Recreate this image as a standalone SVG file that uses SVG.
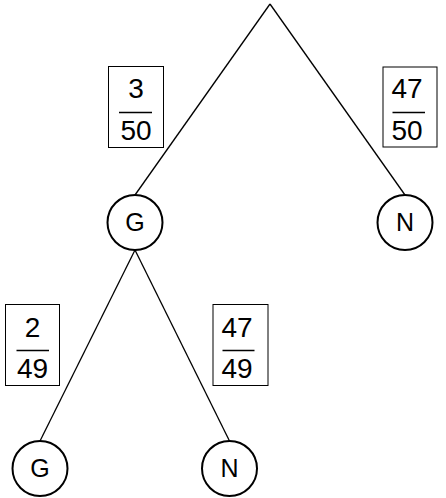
<svg xmlns="http://www.w3.org/2000/svg" width="446" height="498" viewBox="0 0 446 498">
<style>
.edge{stroke:#000;stroke-width:1.3;fill:none}
.box{fill:#fff;stroke:#000;stroke-width:1}
.frac{stroke:#000;stroke-width:1.3}
.node{fill:#fff;stroke:#000;stroke-width:2}
text{font-family:"Liberation Sans",Arial,sans-serif;font-size:28px;fill:#000;text-anchor:middle}
text.lbl{font-size:25px}
</style>
<rect width="446" height="498" fill="#fff"/>
<g id="connectors">
<line class="edge" x1="270" y1="4" x2="135" y2="195"/>
<line class="edge" x1="270" y1="4" x2="405" y2="195"/>
<line class="edge" x1="135" y1="250" x2="40" y2="441"/>
<line class="edge" x1="135" y1="250" x2="229.5" y2="441"/>
</g>
<g id="p1">
<rect class="box" x="108.5" y="66.5" width="55" height="81"/>
<text x="136" y="98">3</text>
<line class="frac" x1="119" y1="112.5" x2="152" y2="112.5"/>
<text x="136" y="140">50</text>
</g>
<g id="p2">
<rect class="box" x="383" y="67" width="54" height="80"/>
<text x="407" y="98">47</text>
<line class="frac" x1="392.5" y1="112.5" x2="425" y2="112.5"/>
<text x="407" y="140">50</text>
</g>
<g id="p3">
<rect class="box" x="5.5" y="304.5" width="54" height="81"/>
<text x="32.5" y="337">2</text>
<line class="frac" x1="16.5" y1="350.5" x2="49" y2="350.5"/>
<text x="32.5" y="378">49</text>
</g>
<g id="p4">
<rect class="box" x="213" y="304.5" width="55" height="81"/>
<text x="237" y="337">47</text>
<line class="frac" x1="222.5" y1="350.5" x2="254.5" y2="350.5"/>
<text x="237" y="378">49</text>
</g>
<g id="G1">
<circle class="node" cx="135" cy="222.5" r="27.5"/>
<text class="lbl" x="135" y="231">G</text>
</g>
<g id="N1">
<circle class="node" cx="405" cy="222.5" r="27.5"/>
<text class="lbl" x="405" y="231">N</text>
</g>
<g id="G2">
<circle class="node" cx="40" cy="468.5" r="27.5"/>
<text class="lbl" x="40" y="477">G</text>
</g>
<g id="N2">
<circle class="node" cx="229.5" cy="468.5" r="27.5"/>
<text class="lbl" x="229.5" y="477">N</text>
</g>
</svg>
